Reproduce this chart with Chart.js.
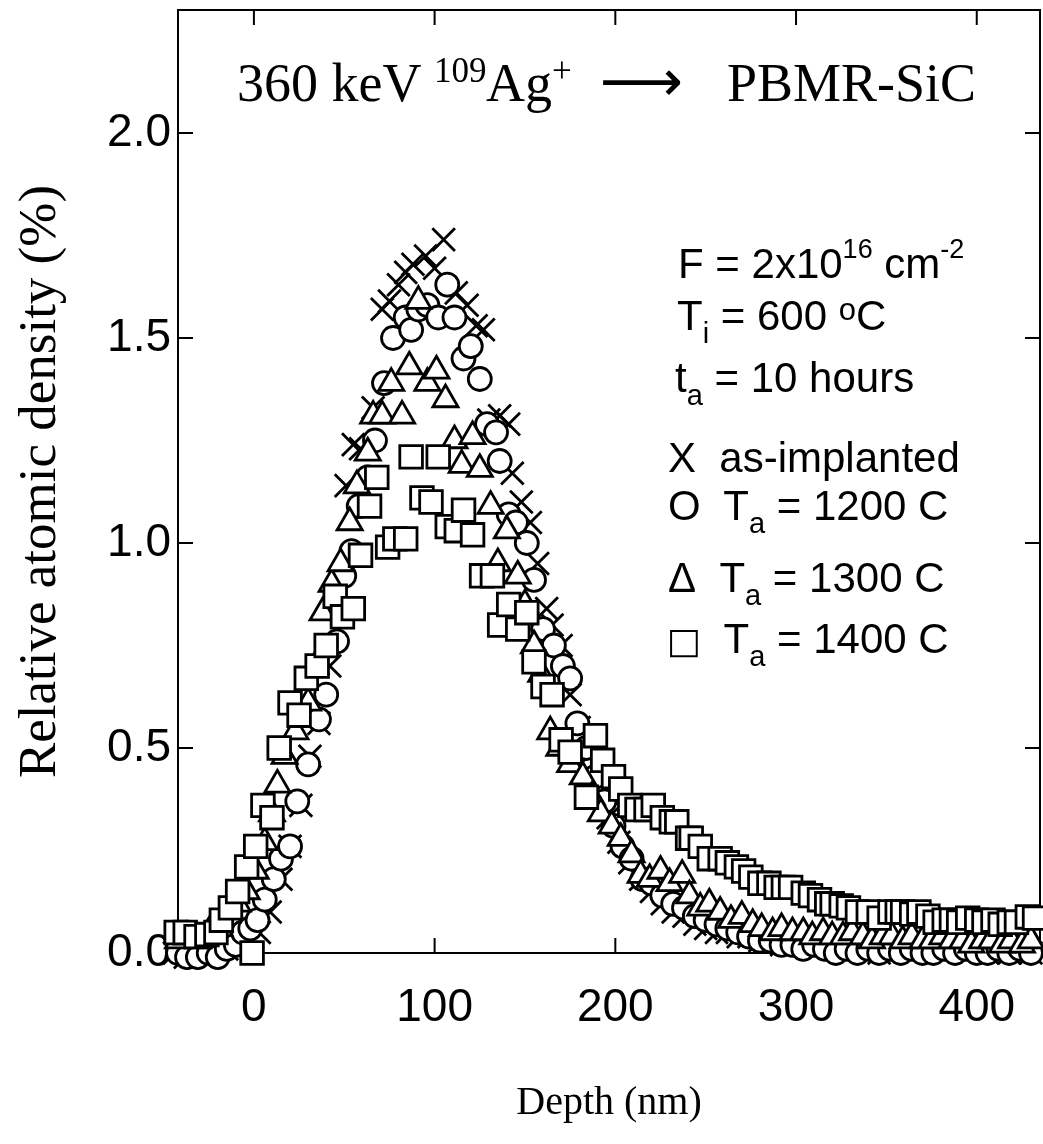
<!DOCTYPE html>
<html>
<head>
<meta charset="utf-8">
<script src="https://cdn.jsdelivr.net/npm/chart.js@4.4.0/dist/chart.umd.min.js"></script>
<style>
  body { margin: 0; background: #fff; }
  #wrap { position: relative; width: 1043px; height: 1144px; }
  .note { position: absolute; white-space: nowrap; line-height: 1; color: #000; }
  .serif { font-family: "Liberation Serif", "Times New Roman", serif; font-size: 54px; }
  .sans { font-family: "Liberation Sans", Arial, sans-serif; font-size: 42px; }
  .sup { position: relative; font-size: 27px; top: -20px; }
  .sub { position: relative; font-size: 29px; top: 13px; }
</style>
</head>
<body>
<div id="wrap">
  <canvas id="myChart" width="1043" height="1144"></canvas>

  <!-- header -->
  <div class="note serif" style="left:237px; top:56px;">360 keV</div>
  <div class="note serif" style="left:434px; top:56px;"><span style="font-size:35px; position:relative; top:-19px;">109</span></div>
  <div class="note serif" style="left:486px; top:56px;">Ag<span style="font-size:35px; position:relative; top:-19px;">+</span></div>
  <div class="note" style="left:600px; top:52px; font-family:'DejaVu Sans'; font-size:58px;">&#x27F6;</div>
  <div class="note serif" style="left:727px; top:56px;">PBMR-SiC</div>

  <!-- conditions + legend -->
  <div class="note sans" style="left:678px; top:243px;">F = 2x10<span class="sup">16</span> cm<span class="sup">-2</span></div>
  <div class="note sans" style="left:677px; top:295px;">T<span class="sub">i</span> = 600 <span class="sup" style="font-size:31px; top:-10px;">o</span>C</div>
  <div class="note sans" style="left:675px; top:357px;">t<span class="sub">a</span> = 10 hours</div>
  <div class="note sans" style="left:668px; top:437px;">X&nbsp; as-implanted</div>
  <div class="note sans" style="left:668px; top:485px;">O&nbsp; T<span class="sub">a</span> = 1200 C</div>
  <div class="note sans" style="left:668px; top:557px;">&Delta;&nbsp; T<span class="sub">a</span> = 1300 C</div>
  <div class="note sans" style="left:667px; top:618px;"><span style="font-family:'DejaVu Sans'; font-size:36px;">&#x25A1;</span>&nbsp; T<span class="sub">a</span> = 1400 C</div>
</div>

<script>
// depth (nm) / relative atomic density (%)

// X  as-implanted
var asImplDepth = [-44, -38, -32, -27, -21, -15, -9, -3, 3, 9, 15, 20, 26, 31, 36, 42, 47, 51, 55, 59,
  66, 71, 75, 80, 84, 88, 95, 100, 105, 112, 118, 123, 127, 130, 136, 141, 143, 148, 153, 157,
  162, 165, 170, 175, 180, 185, 190, 196, 202, 208, 214, 220, 226, 232, 238, 244, 250, 256, 262, 268,
  274, 280, 286, 292, 298, 304, 310, 316, 322, 328, 334, 340, 346, 352, 358, 364, 370, 376, 382, 388,
  394, 400, 406, 412, 418, 424, 430];
var asImplDens = [0.00, -0.01, 0.00, 0.01, 0.00, 0.01, 0.01, 0.02, 0.05, 0.10, 0.18, 0.26, 0.36, 0.48, 0.56, 0.70, 0.88, 1.14, 1.24, 1.23,
  1.33, 1.57, 1.59, 1.63, 1.66, 1.68, 1.70, 1.67, 1.74, 1.61, 1.58, 1.53, 1.52, 1.30, 1.31, 1.29, 1.17, 1.10, 1.05, 0.95,
  0.84, 0.80, 0.75, 0.63, 0.55, 0.48, 0.40, 0.33, 0.27, 0.22, 0.18, 0.15, 0.12, 0.10, 0.09, 0.07, 0.06, 0.05, 0.05, 0.04,
  0.04, 0.03, 0.03, 0.02, 0.03, 0.02, 0.01, 0.02, 0.01, 0.01, 0.02, 0.01, 0.00, 0.01, 0.01, 0.00, 0.01, 0.01, 0.00, 0.01,
  0.00, 0.01, 0.00, 0.01, 0.00, 0.01, 0.00];

// O  Ta = 1200 C
var ann1200Depth = [-42, -37, -31, -25, -20, -15, -10, -6, -2, 2, 6, 11, 15, 20, 24, 30, 36, 40, 46, 50,
  54, 58, 63, 67, 72, 77, 84, 87, 91, 96, 102, 107, 111, 116, 120, 125, 129, 134, 136, 141,
  145, 151, 155, 160, 166, 171, 175, 179, 184, 189, 194, 199, 204, 209, 215, 220, 226, 232, 238, 244,
  250, 256, 262, 268, 274, 280, 286, 292, 298, 304, 310, 316, 322, 328, 334, 340, 346, 352, 358, 364,
  370, 376, 382, 388, 394, 400, 406, 412, 418, 424, 430];
var ann1200Dens = [0.00, -0.01, -0.01, 0.00, -0.01, 0.01, 0.02, 0.05, 0.06, 0.08, 0.13, 0.18, 0.23, 0.26, 0.37, 0.46, 0.57, 0.63, 0.76, 0.92,
  0.98, 1.09, 1.16, 1.25, 1.39, 1.50, 1.55, 1.52, 1.57, 1.58, 1.55, 1.63, 1.55, 1.45, 1.48, 1.40, 1.29, 1.27, 1.20, 1.07,
  1.05, 1.00, 0.91, 0.79, 0.75, 0.70, 0.67, 0.56, 0.50, 0.43, 0.37, 0.31, 0.26, 0.23, 0.18, 0.17, 0.14, 0.12, 0.11, 0.09,
  0.08, 0.07, 0.06, 0.05, 0.04, 0.03, 0.03, 0.02, 0.02, 0.01, 0.02, 0.01, 0.00, 0.01, 0.00, 0.01, 0.00, 0.01, 0.00, 0.01,
  0.00, 0.00, 0.01, 0.00, 0.01, 0.00, 0.00, 0.01, 0.00, 0.01, 0.00];

// triangle  Ta = 1300 C
var ann1300Depth = [-42, -37, -31, -25, -19, -14, -9, -4, 1, 6, 10, 13, 17, 23, 30, 34, 38, 43, 48, 53,
  57, 63, 66, 71, 76, 82, 86, 91, 96, 101, 106, 111, 115, 121, 125, 131, 135, 140, 146, 150,
  155, 159, 164, 169, 175, 182, 187, 192, 198, 203, 209, 214, 219, 225, 230, 237, 241, 247, 252, 258,
  264, 270, 276, 281, 287, 292, 298, 304, 309, 315, 320, 326, 331, 337, 342, 348, 353, 359, 364, 370,
  375, 381, 386, 392, 397, 403, 408, 414, 419, 425, 430];
var ann1300Dens = [0.03, 0.04, 0.03, 0.05, 0.06, 0.11, 0.12, 0.15, 0.20, 0.27, 0.34, 0.41, 0.48, 0.54, 0.61, 0.70, 0.83, 0.90, 0.95, 1.05,
  1.14, 1.22, 1.31, 1.31, 1.39, 1.31, 1.43, 1.59, 1.39, 1.42, 1.35, 1.25, 1.19, 1.26, 1.18, 1.09, 0.95, 1.03, 0.92, 0.85,
  0.75, 0.68, 0.54, 0.50, 0.46, 0.43, 0.38, 0.34, 0.31, 0.28, 0.24, 0.19, 0.18, 0.20, 0.17, 0.19, 0.14, 0.11, 0.12, 0.10,
  0.08, 0.09, 0.07, 0.06, 0.05, 0.06, 0.05, 0.05, 0.04, 0.05, 0.04, 0.04, 0.05, 0.04, 0.03, 0.04, 0.04, 0.03, 0.04, 0.03,
  0.03, 0.04, 0.03, 0.03, 0.02, 0.03, 0.03, 0.02, 0.03, 0.02, 0.03];

// square  Ta = 1400 C
var ann1400Depth = [-43, -38, -32, -26, -21, -18, -13, -9, -4, -1, 1, 5, 10, 14, 20, 25, 29, 35, 40, 45,
  49, 55, 59, 64, 68, 74, 78, 84, 87, 93, 98, 102, 107, 112, 116, 121, 126, 132, 136, 141,
  146, 151, 155, 160, 165, 170, 175, 184, 189, 193, 199, 203, 208, 212, 217, 221, 226, 231, 234, 240,
  242, 247, 252, 258, 262, 267, 271, 275, 280, 285, 289, 293, 297, 304, 308, 313, 317, 320, 325, 329,
  334, 340, 346, 352, 356, 359, 364, 368, 373, 377, 382, 386, 390, 395, 400, 404, 409, 413, 418, 422,
  428, 432];
var ann1400Dens = [0.05, 0.05, 0.04, 0.045, 0.05, 0.08, 0.11, 0.15, 0.21, 0.00, 0.26, 0.36, 0.33, 0.50, 0.61, 0.58, 0.67, 0.70, 0.75, 0.87,
  0.82, 0.84, 0.97, 1.09, 1.16, 0.99, 1.01, 1.01, 1.21, 1.11, 1.10, 1.21, 1.04, 1.03, 1.08, 1.02, 0.92, 0.92, 0.80, 0.85,
  0.79, 0.83, 0.71, 0.65, 0.63, 0.52, 0.49, 0.38, 0.53, 0.47, 0.43, 0.40, 0.36, 0.35, 0.35, 0.36, 0.33, 0.32, 0.32, 0.28,
  0.28, 0.26, 0.23, 0.23, 0.22, 0.21, 0.20, 0.185, 0.17, 0.17, 0.16, 0.16, 0.16, 0.146, 0.14, 0.13, 0.12, 0.12, 0.115, 0.11,
  0.10, 0.10, 0.085, 0.10, 0.10, 0.10, 0.095, 0.10, 0.09, 0.075, 0.08, 0.08, 0.075, 0.085, 0.08, 0.075, 0.08, 0.07, 0.075, 0.075,
  0.088, 0.085];

var xTickLabels = ["0", "100", "200", "300", "400"];
var yTickLabels = ["0.0", "0.5", "1.0", "1.5", "2.0"];

function toPoints(depth, dens) {
  return depth.map(function (d, i) { return { x: d, y: dens[i] }; });
}

// box round the plot + inward ticks on all four sides
var frame = {
  id: "frame",
  beforeDatasetsDraw: function (chart) {
    var ctx = chart.ctx;
    var a = chart.chartArea;
    var tl = 15;
    ctx.save();
    ctx.strokeStyle = "#000";
    ctx.lineWidth = 2;
    ctx.strokeRect(a.left, a.top, a.right - a.left, a.bottom - a.top);
    ctx.beginPath();
    chart.scales.x.ticks.forEach(function (t) {
      var px = chart.scales.x.getPixelForValue(t.value);
      ctx.moveTo(px, a.bottom); ctx.lineTo(px, a.bottom - tl);
      ctx.moveTo(px, a.top); ctx.lineTo(px, a.top + tl);
    });
    chart.scales.y.ticks.forEach(function (t) {
      var py = chart.scales.y.getPixelForValue(t.value);
      ctx.moveTo(a.left, py); ctx.lineTo(a.left + tl, py);
      ctx.moveTo(a.right, py); ctx.lineTo(a.right - tl, py);
    });
    ctx.stroke();
    ctx.restore();
  }
};

var common = {
  showLine: false,
  clip: false,
  pointBackgroundColor: "#fff",
  pointBorderColor: "#000",
  pointBorderWidth: 2.8
};

var ctx = document.getElementById("myChart").getContext("2d");
var myChart = new Chart(ctx, {
  type: "scatter",
  data: {
    datasets: [
      Object.assign({ label: "as-implanted", data: toPoints(asImplDepth, asImplDens), pointStyle: "crossRot", pointRadius: 16, order: 4 }, common),
      Object.assign({ label: "Ta = 1200 C", data: toPoints(ann1200Depth, ann1200Dens), pointStyle: "circle", pointRadius: 11.5, order: 3 }, common),
      Object.assign({ label: "Ta = 1300 C", data: toPoints(ann1300Depth, ann1300Dens), pointStyle: "triangle", pointRadius: 14.5, order: 2 }, common),
      Object.assign({ label: "Ta = 1400 C", data: toPoints(ann1400Depth, ann1400Dens), pointStyle: "rect", pointRadius: 16, order: 1 }, common)
    ]
  },
  options: {
    responsive: false,
    animation: false,
    events: [],
    layout: { autoPadding: false, padding: { left: 0, right: 3, top: 10, bottom: 0 } },
    plugins: {
      legend: { display: false },
      tooltip: { enabled: false }
    },
    scales: {
      x: {
        type: "linear",
        min: -42,
        max: 435,
        afterFit: function (s) { s.height = 191; s.paddingLeft = 0; s.paddingRight = 0; },
        grid: { display: false, drawTicks: false },
        border: { display: false },
        ticks: {
          stepSize: 100,
          includeBounds: false,
          padding: 28,
          color: "#000",
          font: { family: "'Liberation Sans', Arial, sans-serif", size: 46 },
          callback: function (v) { return xTickLabels[Math.round(v / 100)]; }
        },
        title: {
          display: true,
          text: "Depth (nm)",
          color: "#000",
          padding: { top: 0, bottom: 17 },
          font: { family: "'Liberation Serif', 'Times New Roman', serif", size: 40, weight: "normal" }
        }
      },
      y: {
        min: 0,
        max: 2.3,
        afterFit: function (s) { s.width = 178; s.paddingTop = 0; s.paddingBottom = 0; },
        grid: { display: false, drawTicks: false },
        border: { display: false },
        ticks: {
          stepSize: 0.5,
          includeBounds: false,
          padding: 7,
          color: "#000",
          font: { family: "'Liberation Sans', Arial, sans-serif", size: 46 },
          callback: function (v) { return yTickLabels[Math.round(v / 0.5)]; }
        },
        title: {
          display: true,
          text: "Relative atomic density (%)",
          color: "#000",
          padding: { top: 9, bottom: 0 },
          font: { family: "'Liberation Serif', 'Times New Roman', serif", size: 53, weight: "normal" }
        }
      }
    }
  },
  plugins: [frame]
});
</script>
</body>
</html>
